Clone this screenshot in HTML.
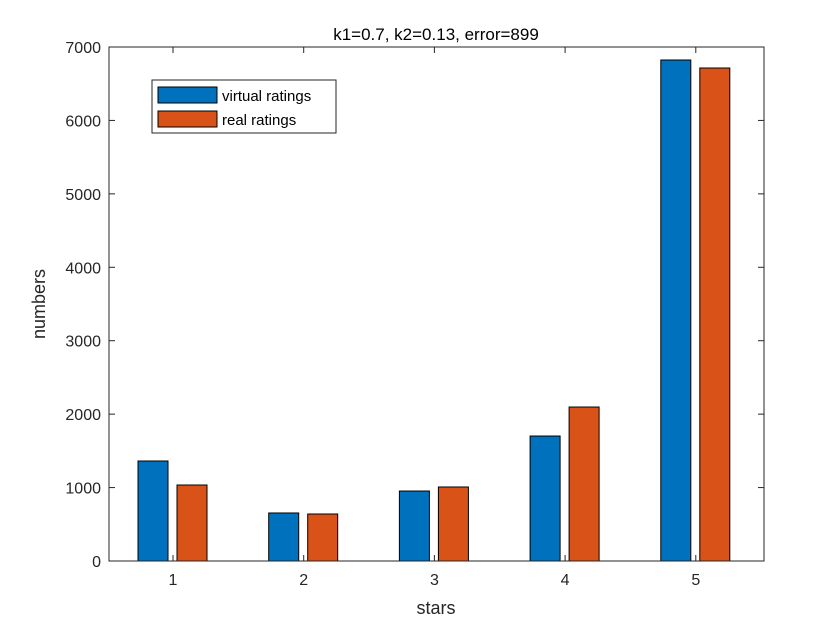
<!DOCTYPE html>
<html><head><meta charset="utf-8"><style>
body{margin:0;background:#fff;}
svg{display:block;font-family:"Liberation Sans",Arial,sans-serif;}
</style></head><body>
<svg id="chart" width="840" height="630">
<rect x="0" y="0" width="840" height="630" fill="#fff"/>
<g id="plot"></g>
</svg>
<script>
const categories = ["1","2","3","4","5"];
const virtualRatings = [1362, 654, 953, 1702, 6823];
const realRatings = [1035, 640, 1008, 2097, 6714];
const yTicks = [0,1000,2000,3000,4000,5000,6000,7000];
const seriesNames = ["virtual ratings","real ratings"];
const titleText = "k1=0.7, k2=0.13, error=899";

const NS="http://www.w3.org/2000/svg";
const L=109,R=764,T=47,B=561,yMax=7000;
const y=v=>B-(v/yMax)*(B-T);
const step=(R-L)/5.01;
const x=i=>173+i*130.7;
const g=document.getElementById('plot');
function mk(tag,attrs,text){const e=document.createElementNS(NS,tag);for(const k in attrs)e.setAttribute(k,attrs[k]);if(text!==undefined)e.textContent=text;g.appendChild(e);return e;}

const cols=["#0072bd","#d95319"];
[virtualRatings,realRatings].forEach((s,si)=>{
  s.forEach((v,i)=>{
    const bx=x(i)+(si===0?-35:4);
    const r=mk('rect',{x:bx,y:y(v),width:30,height:B-y(v),fill:cols[si],stroke:"#000","stroke-width":1});
    
    
  });
});
// axes box
const ax=mk('rect',{x:L,y:T,width:R-L,height:B-T,fill:"none",stroke:"#262626","stroke-width":1});


yTicks.forEach(t=>{
  mk('line',{x1:L,x2:L+6,y1:y(t),y2:y(t),stroke:"#262626"});
  mk('line',{x1:R,x2:R-6,y1:y(t),y2:y(t),stroke:"#262626"});
  const tl=mk('text',{x:L-8,y:y(t)+6,"text-anchor":"end","font-size":16,fill:"#262626"},t);
  
  
});
categories.forEach((c,i)=>{
  mk('line',{x1:x(i),x2:x(i),y1:B,y2:B-6,stroke:"#262626"});
  mk('line',{x1:x(i),x2:x(i),y1:T,y2:T+6,stroke:"#262626"});
  const tl=mk('text',{x:x(i),y:B+24,"text-anchor":"middle","font-size":16,fill:"#262626"},c);
  
  
});
const tt=mk('text',{x:436,y:40,"text-anchor":"middle","font-size":17,fill:"#000"},titleText);


const xt=mk('text',{x:436,y:614,"text-anchor":"middle","font-size":18,fill:"#262626"},"stars");


const yt=mk('text',{x:0,y:0,"text-anchor":"middle","font-size":18,fill:"#262626",transform:"translate(45,304) rotate(-90)"},"numbers");


// legend
const lb=mk('rect',{x:152,y:80,width:184,height:53,fill:"#fff",stroke:"#262626"});


seriesNames.forEach((n,i)=>{
  const yy=87+i*24;
  const sw=mk('rect',{x:158,y:yy,width:59,height:16,fill:cols[i],stroke:"#000"});
  
  
  const lt=mk('text',{x:222,y:yy+14,"font-size":15,fill:"#000"},n);
  
  
});
</script>
</body></html>
